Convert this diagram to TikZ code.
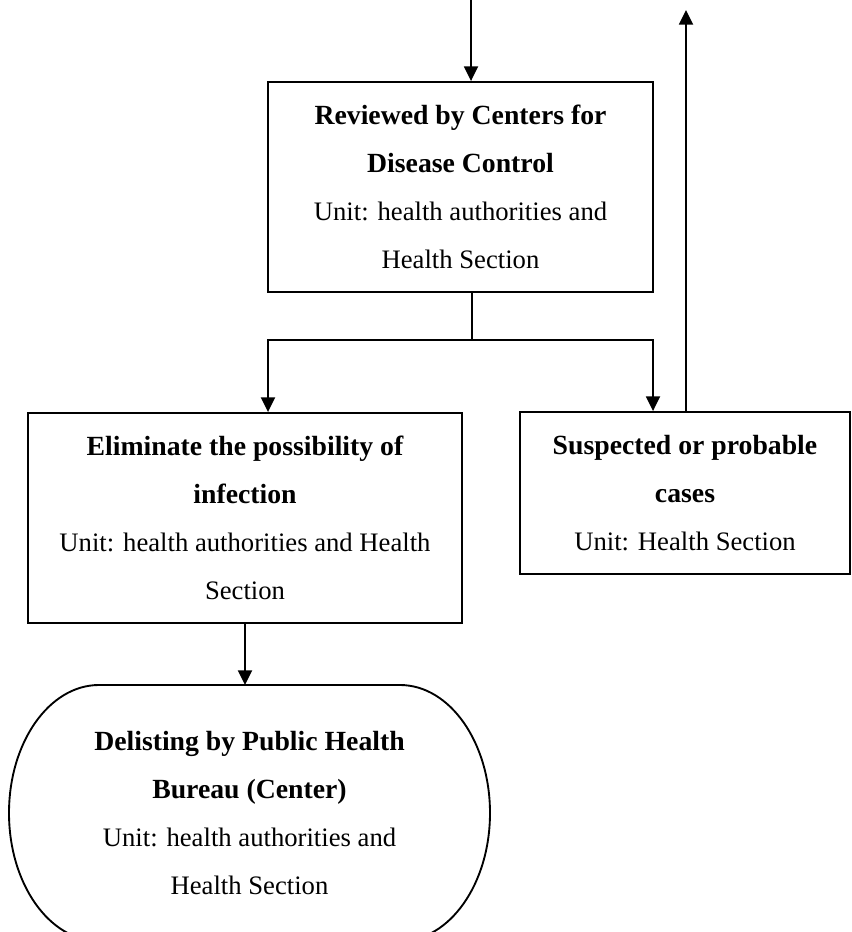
\documentclass[tikz,border=0pt]{standalone}
\usepackage{fontspec}
\setmainfont{Liberation Serif}
\usetikzlibrary{arrows.meta}

\newcommand{\headline}[1]{{\fontsize{20.8}{36}\selectfont\bfseries #1}}

\begin{document}
\begin{tikzpicture}[x=0.75pt,y=0.75pt,yscale=-1,xscale=1,
  line width=1.4pt,
  stepbox/.style={draw,rectangle,align=center,inner sep=0pt,font=\fontsize{20}{36}\selectfont},
  steptext/.style={align=center,inner sep=0pt,font=\fontsize{20}{36}\selectfont},
  flow/.style={-{Triangle[width=10.5pt,length=11pt]}}]
%set diagram left start at 0, and has height of 932
\clip (0,0) rectangle (851,932);

%Shape: Rectangle [review]
\node [stepbox,minimum width=288.75pt,minimum height=157.5pt] (review) at (460.5,187)
  {\headline{Reviewed by Centers for}\\ \headline{Disease Control}\\ Unit: health authorities and\\ Health Section};
%Shape: Rectangle [elim]
\node [stepbox,minimum width=325.5pt,minimum height=157.5pt] (elim) at (245,518)
  {\headline{Eliminate the possibility of}\\ \headline{infection}\\ Unit: health authorities and Health\\ Section};
%Shape: Rectangle [suspect]
\node [stepbox,minimum width=247.5pt,minimum height=121.5pt] (suspect) at (685,493)
  {\headline{Suspected or probable}\\ \headline{cases}\\ Unit: Health Section};
%Shape: Terminal [delist]
\draw (99,685) arc [start angle=270,end angle=90,x radius=90,y radius=128]
  -- (400,941) arc [start angle=90,end angle=-90,x radius=90,y radius=128] -- cycle;
\coordinate (delisttop) at (246,685);
% Text Node
\node [steptext] (delist) at (249.5,813)
  {\headline{Delisting by Public Health}\\ \headline{Bureau (Center)}\\ Unit: health authorities and\\ Health Section};

% Free ends
\coordinate (inflow) at (471,0);
\coordinate (outflow) at (686,10);
\coordinate (split) at (472,340);

%Straight Lines
\draw [flow] (inflow) -- (inflow |- review.north);
\draw (split |- review.south) -- (split);
\draw [flow] (split) -| ([xshift=17.25pt]elim.north);
\draw [flow] (split) -| ([xshift=-24pt]suspect.north);
\draw [flow] ([xshift=0.75pt]suspect.north) -- (outflow);
\draw [flow] (elim.south) -- (elim.south |- delisttop);

\end{tikzpicture}
\end{document}
